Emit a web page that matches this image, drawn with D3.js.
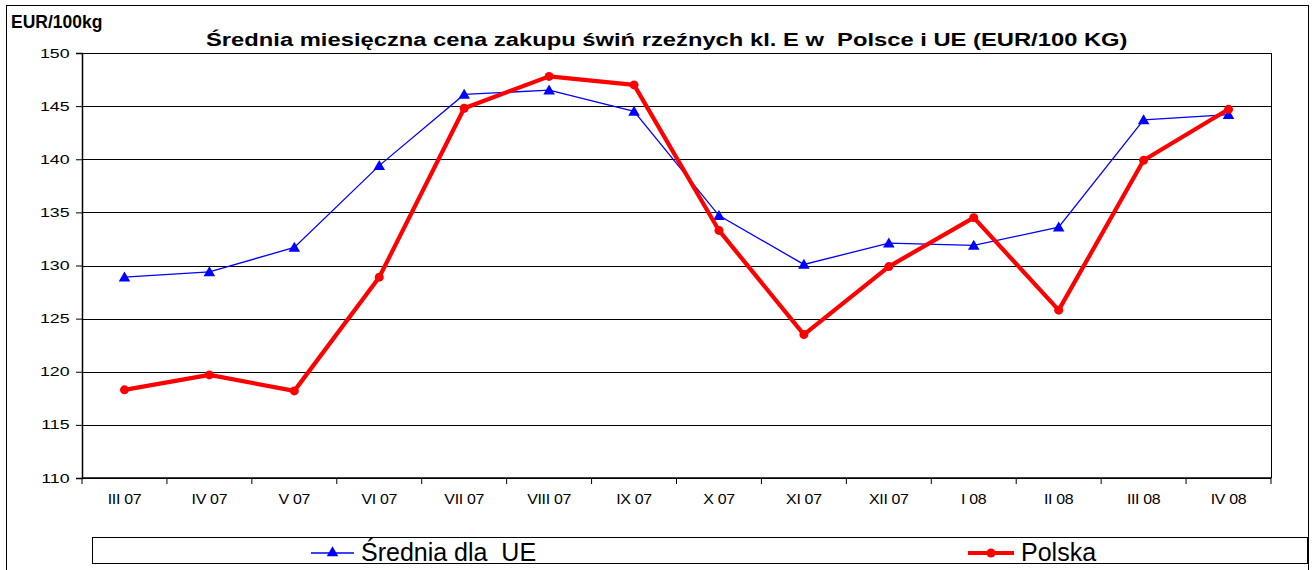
<!DOCTYPE html>
<html>
<head>
<meta charset="utf-8">
<script src="https://cdn.jsdelivr.net/npm/d3@7"></script>
<style>
  body { margin: 0; background: #fff; }
  text { font-family: "Liberation Sans", Arial, sans-serif; fill: #000; white-space: pre; }
</style>
</head>
<body>
<div id="chart"></div>
<script>
// months on the x axis
var months = ['III 07', 'IV 07', 'V 07', 'VI 07', 'VII 07', 'VIII 07', 'IX 07',
              'X 07', 'XI 07', 'XII 07', 'I 08', 'II 08', 'III 08', 'IV 08'];
// EUR/100kg
var ueValues = [128.9, 129.4, 131.7, 139.4, 146.1, 146.5, 144.5,
                134.7, 130.1, 132.1, 131.9, 133.6, 143.7, 144.2];
var plValues = [118.3, 119.7, 118.2, 128.9, 144.8, 147.8, 147.0,
                133.3, 123.5, 129.9, 134.5, 125.8, 139.9, 144.7];
var yTicks = [110, 115, 120, 125, 130, 135, 140, 145, 150];

var W = 1315, H = 570;
var m = {top: 53, right: 44, bottom: 92, left: 82};
var w = W - m.left - m.right,
    h = H - m.top - m.bottom;

var svg = d3.select('#chart').append('svg')
    .attr('width', W)
    .attr('height', H);

// outer frame
svg.append('rect')
    .attr('x', 6.5).attr('y', 5.5)
    .attr('width', 1302).attr('height', 580)
    .attr('fill', 'none')
    .attr('stroke', '#000');

svg.append('text')
    .attr('x', 11).attr('y', 28)
    .style('font-size', '17.5px').style('font-weight', 'bold')
    .text('EUR/100kg');

// the title in the picture is stretched sideways: scale it to its width there
var title = svg.append('text')
    .style('font-size', '17.5px').style('font-weight', 'bold')
    .text('Średnia miesięczna cena zakupu świń rzeźnych kl. E w  Polsce i UE (EUR/100 KG)');
var tSx = 922 / title.node().getComputedTextLength();
title.attr('transform', 'translate(206,46) scale(' + tSx + ',1)');

var g = svg.append('g')
    .attr('transform', 'translate(' + m.left + ',' + m.top + ')');

var x = d3.scaleBand().domain(months).range([0, w]);
var y = d3.scaleLinear().domain([110, 150]).range([h, 0]);

// grid lines
g.selectAll('.grid').data(yTicks).enter().append('line')
    .attr('x1', 0).attr('x2', w)
    .attr('y1', function(d) { return Math.round(y(d)) + 0.5; })
    .attr('y2', function(d) { return Math.round(y(d)) + 0.5; })
    .attr('stroke', '#000').attr('stroke-width', 1);

// right border of plot area
g.append('line')
    .attr('x1', w + 0.5).attr('x2', w + 0.5)
    .attr('y1', 0).attr('y2', h)
    .attr('stroke', '#000');

var ySx = 1.42;
var yAxis = g.append('g')
    .call(d3.axisLeft(y).tickValues(yTicks).tickSize(6));
yAxis.select('.domain').attr('stroke', '#000').attr('stroke-width', 1.5);
yAxis.selectAll('text')
    .style('font-size', '12.5px')
    .attr('x', -12.5 / ySx)
    .attr('transform', 'scale(' + ySx + ',1)');

// x axis: ticks on the band edges
var xSx = 1.1;
var edges = d3.range(months.length + 1).map(function(i) { return i * x.step(); });
var xAxis = g.append('g').attr('transform', 'translate(0,' + h + ')');
xAxis.append('line')
    .attr('x1', 0).attr('x2', w)
    .attr('stroke', '#000').attr('stroke-width', 1.5);
xAxis.selectAll('.tk').data(edges).enter().append('line')
    .attr('x1', function(d) { return d; }).attr('x2', function(d) { return d; })
    .attr('y1', 0).attr('y2', 6)
    .attr('stroke', '#000');
xAxis.selectAll('.lbl').data(months).enter().append('text')
    .attr('transform', function(d) {
        return 'translate(' + (x(d) + x.bandwidth() / 2) + ',26) scale(' + xSx + ',1)';
    })
    .attr('text-anchor', 'middle')
    .style('font-size', '14.5px')
    .style('letter-spacing', '-0.3px')
    .text(function(d) { return d; });

var cx = function(d, i) { return x(months[i]) + x.bandwidth() / 2; };
var line = d3.line().x(cx).y(function(d) { return y(d); });

// UE series
g.append('path').datum(ueValues)
    .attr('d', line)
    .attr('fill', 'none')
    .attr('stroke', '#0000ff')
    .attr('stroke-width', 1.3);
var tri = d3.symbol().type(d3.symbolTriangle).size(58);
g.selectAll('.ue').data(ueValues).enter().append('path')
    .attr('d', tri)
    .attr('transform', function(d, i) { return 'translate(' + cx(d, i) + ',' + (y(d) + 1) + ')'; })
    .attr('fill', '#0000ff');

// Polska series
g.append('path').datum(plValues)
    .attr('d', line)
    .attr('fill', 'none')
    .attr('stroke', '#ff0000')
    .attr('stroke-width', 4.2)
    .attr('stroke-linejoin', 'round');
g.selectAll('.pl').data(plValues).enter().append('circle')
    .attr('cx', cx)
    .attr('cy', function(d) { return y(d); })
    .attr('r', 4.5)
    .attr('fill', '#ff0000');

// legend
var lg = svg.append('g');
lg.append('rect')
    .attr('x', 92.5).attr('y', 537.5)
    .attr('width', 1215).attr('height', 26)
    .attr('fill', '#fff').attr('stroke', '#000');
lg.append('line')
    .attr('x1', 311).attr('x2', 354).attr('y1', 553).attr('y2', 553)
    .attr('stroke', '#0000ff').attr('stroke-width', 1.3);
lg.append('path')
    .attr('d', tri)
    .attr('transform', 'translate(332.5,553)')
    .attr('fill', '#0000ff');
lg.append('text')
    .attr('x', 361).attr('y', 561)
    .style('font-size', '25px')
    .text('Średnia dla  UE');
lg.append('line')
    .attr('x1', 968).attr('x2', 1014).attr('y1', 553).attr('y2', 553)
    .attr('stroke', '#ff0000').attr('stroke-width', 4.2);
lg.append('circle')
    .attr('cx', 991).attr('cy', 553).attr('r', 4.5)
    .attr('fill', '#ff0000');
lg.append('text')
    .attr('x', 1021).attr('y', 561)
    .style('font-size', '25px')
    .text('Polska');
</script>
</body>
</html>
